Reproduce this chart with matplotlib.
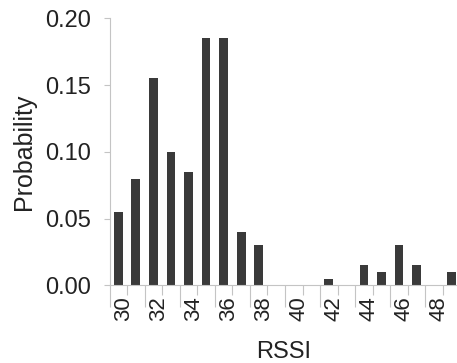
import matplotlib
matplotlib.use("Agg")
import matplotlib.pyplot as plt
import matplotlib.transforms as mtransforms
import numpy as np

# Data
rssi = [30, 31, 32, 33, 34, 35, 36, 37, 38, 39, 40, 41, 42, 43, 44, 45, 46, 47, 48, 49]
probability = [0.055, 0.080, 0.155, 0.100, 0.085, 0.185, 0.185, 0.040, 0.030, 0.0,
               0.0, 0.0, 0.005, 0.0, 0.015, 0.010, 0.030, 0.015, 0.0, 0.010]
xtick_values = [30, 32, 34, 36, 38, 40, 42, 44, 46, 48]
ytick_values = [0.00, 0.05, 0.10, 0.15, 0.20]
ytick_labels = ["0.00", "0.05", "0.10", "0.15", "0.20"]
long_sep = [29.5, 31.5, 33.5, 35.5, 37.5, 39.5, 41.5, 43.5, 45.5, 47.5]
short_sep = [30.5, 32.5, 34.5, 36.5, 38.5, 40.5, 42.5, 44.5, 46.5, 48.5]

plt.rcParams['font.family'] = ['Liberation Sans', 'DejaVu Sans']

W, H = 457, 363
fig = plt.figure(figsize=(W / 100, H / 100), dpi=100)
ax = fig.add_axes([109.5 / W, 1 - 285.3 / H, 1 - 109.5 / W, (285.3 - 18.3) / H])

ax.bar(rssi, probability, width=0.5, color='#3a3a3a', linewidth=0)

ax.set_xlim(29.5, 49.3)
ax.set_ylim(0, 0.20)

grey = '#c4c4c4'
for s in ['top', 'right']:
    ax.spines[s].set_visible(False)
for s in ['left', 'bottom']:
    ax.spines[s].set_color(grey)
    ax.spines[s].set_linewidth(0.8)

ax.set_yticks(ytick_values)
ax.set_yticklabels(ytick_labels)
ax.tick_params(axis='y', length=4, color=grey, labelsize=17, pad=9, labelcolor='#222222')

ax.set_xticks(xtick_values)
ax.set_xticklabels([str(v) for v in xtick_values], rotation=90)
ax.tick_params(axis='x', which='major', length=0, labelsize=16, pad=8, labelcolor='#222222')
ax.set_xticks(short_sep, minor=True)
ax.tick_params(axis='x', which='minor', length=7, color=grey, width=0.8)

sec = ax.secondary_xaxis('bottom')
sec.set_xticks(long_sep)
sec.tick_params(length=16, color=grey, width=0.8, labelbottom=False)
sec.spines['bottom'].set_visible(False)

ax.set_ylabel("Probability", fontsize=18, labelpad=7, color='#222222')
ax.set_xlabel("RSSI", fontsize=17, labelpad=14, color='#222222')

offset = mtransforms.ScaledTranslation(5 / 100, 0, fig.dpi_scale_trans)
for t in ax.xaxis.get_major_ticks():
    t.label1.set_transform(t.label1.get_transform() + offset)

fig.savefig("out.png", dpi=100)
